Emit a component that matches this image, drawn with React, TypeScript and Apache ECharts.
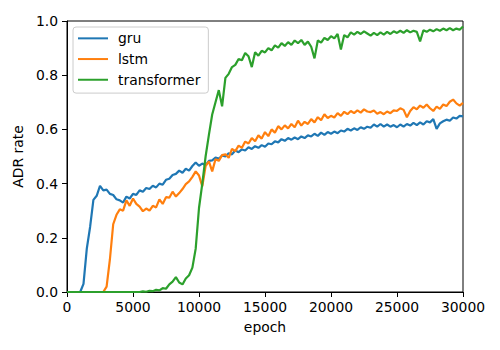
import React, { useEffect, useRef } from "react";
import * as echarts from "echarts";

const EPOCH_STEP = 250;
const seriesNames = ["gru", "lstm", "transformer"];
const xTicks = [0, 5000, 10000, 15000, 20000, 25000, 30000];
const yTicks = [0, 0.2, 0.4, 0.6, 0.8, 1.0];

const gru = [
  0, 0, 0, 0, 0, 0.03, 0.16, 0.24, 0.34, 0.355,
  0.392, 0.375, 0.378, 0.362, 0.358, 0.342, 0.338, 0.33, 0.352, 0.345,
  0.362, 0.358, 0.375, 0.37, 0.384, 0.38, 0.392, 0.386, 0.40, 0.396,
  0.414, 0.418, 0.432, 0.436, 0.448, 0.44, 0.455, 0.448, 0.465, 0.478,
  0.466, 0.474, 0.468, 0.484, 0.486, 0.496, 0.492, 0.504, 0.5, 0.512,
  0.508, 0.522, 0.516, 0.526, 0.522, 0.534, 0.528, 0.538, 0.532, 0.542,
  0.536, 0.548, 0.545, 0.556, 0.552, 0.564, 0.558, 0.568, 0.562, 0.57,
  0.564, 0.574, 0.568, 0.578, 0.574, 0.584, 0.576, 0.588, 0.58, 0.59,
  0.584, 0.592, 0.586, 0.596, 0.592, 0.602, 0.596, 0.604, 0.598, 0.608,
  0.602, 0.61, 0.606, 0.618, 0.61, 0.62, 0.61, 0.618, 0.61, 0.616,
  0.608, 0.618, 0.61, 0.62, 0.614, 0.624, 0.616, 0.626, 0.618, 0.63,
  0.626, 0.638, 0.602, 0.622, 0.63, 0.636, 0.632, 0.644, 0.64, 0.65,
  0.648,
];

const lstm = [
  0, 0, 0, 0, 0, 0, 0, 0, 0, 0,
  0, 0, 0.02, 0.12, 0.25, 0.285, 0.305, 0.3, 0.338, 0.318,
  0.345, 0.325, 0.315, 0.298, 0.308, 0.3, 0.318, 0.312, 0.342, 0.325,
  0.35, 0.348, 0.37, 0.352, 0.365, 0.38, 0.398, 0.408, 0.425, 0.445,
  0.43, 0.39, 0.465, 0.482, 0.445, 0.49, 0.484, 0.505, 0.508, 0.495,
  0.528, 0.52, 0.54, 0.532, 0.555, 0.548, 0.568, 0.556, 0.578, 0.566,
  0.59, 0.575, 0.6, 0.588, 0.612, 0.6, 0.615, 0.604, 0.62, 0.608,
  0.632, 0.614, 0.628, 0.62, 0.638, 0.626, 0.645, 0.634, 0.656, 0.642,
  0.65, 0.644, 0.66, 0.65, 0.665, 0.656, 0.668, 0.66, 0.67, 0.662,
  0.674, 0.666, 0.664, 0.67, 0.658, 0.664, 0.656, 0.666, 0.66, 0.67,
  0.668, 0.678, 0.672, 0.645, 0.668, 0.682, 0.674, 0.688, 0.68, 0.692,
  0.678, 0.668, 0.684, 0.676, 0.692, 0.686, 0.702, 0.71, 0.696, 0.688,
  0.698,
];

const transformer = [
  0, 0, 0, 0, 0, 0, 0, 0, 0, 0,
  0, 0, 0, 0, 0, 0, 0, 0, 0, 0,
  0, 0, 0, 0.002, 0.001, 0.004, 0.003, 0.008, 0.006, 0.014,
  0.012, 0.028, 0.038, 0.055, 0.035, 0.028, 0.05, 0.062, 0.09, 0.16,
  0.31, 0.40, 0.50, 0.58, 0.655, 0.70, 0.745, 0.685, 0.79, 0.805,
  0.83, 0.838, 0.86, 0.855, 0.882, 0.87, 0.83, 0.885, 0.872, 0.89,
  0.884, 0.9, 0.892, 0.91, 0.902, 0.918, 0.908, 0.922, 0.912, 0.928,
  0.918, 0.93, 0.912, 0.924, 0.905, 0.862, 0.928, 0.92, 0.938, 0.93,
  0.944, 0.936, 0.952, 0.895, 0.948, 0.94, 0.958, 0.95, 0.96, 0.952,
  0.962, 0.954, 0.946, 0.956, 0.948, 0.958, 0.95, 0.96, 0.952, 0.962,
  0.956, 0.964, 0.956, 0.966, 0.958, 0.964, 0.96, 0.925, 0.966, 0.96,
  0.968, 0.962, 0.97, 0.964, 0.972, 0.966, 0.974, 0.966, 0.972, 0.968,
  0.98,
];

const colors = ["#1f77b4", "#ff7f0e", "#2ca02c"];
const FONT = "DejaVu Sans";
const FS = 13.9;

export default function App() {
  const ref = useRef<HTMLDivElement>(null);
  useEffect(() => {
    if (!ref.current) return;
    const chart = echarts.init(ref.current, null, { renderer: "svg" });
    const all = [gru, lstm, transformer];
    chart.setOption({
      animation: false,
      backgroundColor: "#ffffff",
      textStyle: { fontFamily: FONT },
      grid: {
        left: 67,
        right: 37,
        top: 21,
        bottom: 58,
        show: true,
        borderColor: "#000",
        borderWidth: 1,
        containLabel: false,
      },
      legend: {
        orient: "vertical",
        left: 73,
        top: 27,
        data: seriesNames.map((n) => ({ name: n, icon: "rect" })),
        itemWidth: 30,
        itemHeight: 2,
        itemGap: 0,
        padding: [1, 8, 3, 5],
        backgroundColor: "rgba(255,255,255,0.8)",
        borderColor: "#cccccc",
        borderWidth: 1,
        borderRadius: 3,
        textStyle: {
          fontFamily: FONT,
          fontSize: FS,
          color: "#000",
          lineHeight: 20.7,
          padding: [0, 0, 0, 5],
        },
      },
      xAxis: {
        type: "value",
        min: 0,
        max: 30000,
        interval: 5000,
        name: "epoch",
        nameLocation: "middle",
        nameGap: 28,
        nameTextStyle: { fontFamily: FONT, fontSize: FS, color: "#000" },
        axisLine: { show: true, onZero: false, lineStyle: { color: "#000", width: 1 } },
        axisTick: { show: true, length: 5, lineStyle: { color: "#000" } },
        axisLabel: {
          fontFamily: FONT,
          fontSize: FS,
          color: "#000",
          margin: 8,
          formatter: (v: number) => (xTicks.includes(v) ? String(v) : ""),
        },
        splitLine: { show: false },
      },
      yAxis: {
        type: "value",
        min: 0,
        max: 1,
        interval: 0.2,
        name: "ADR rate",
        nameLocation: "middle",
        nameGap: 38,
        nameTextStyle: { fontFamily: FONT, fontSize: FS, color: "#000" },
        axisLine: { show: true, onZero: false, lineStyle: { color: "#000", width: 1 } },
        axisTick: { show: true, length: 5, lineStyle: { color: "#000" } },
        axisLabel: {
          fontFamily: FONT,
          fontSize: FS,
          color: "#000",
          margin: 9,
          formatter: (v: number) => {
            const t = yTicks.find((y) => Math.abs(y - v) < 1e-6);
            return t === undefined ? "" : t.toFixed(1);
          },
        },
        splitLine: { show: false },
      },
      series: seriesNames.map((name, k) => ({
        name,
        type: "line",
        showSymbol: false,
        symbol: "none",
        clip: true,
        data: all[k].map((v, i) => [i * EPOCH_STEP, v]),
        lineStyle: { color: colors[k], width: 2.2 },
        itemStyle: { color: colors[k] },
      })),
    });
    return () => chart.dispose();
  }, []);
  return <div ref={ref} style={{ width: 500, height: 350, margin: -8 }} />;
}
